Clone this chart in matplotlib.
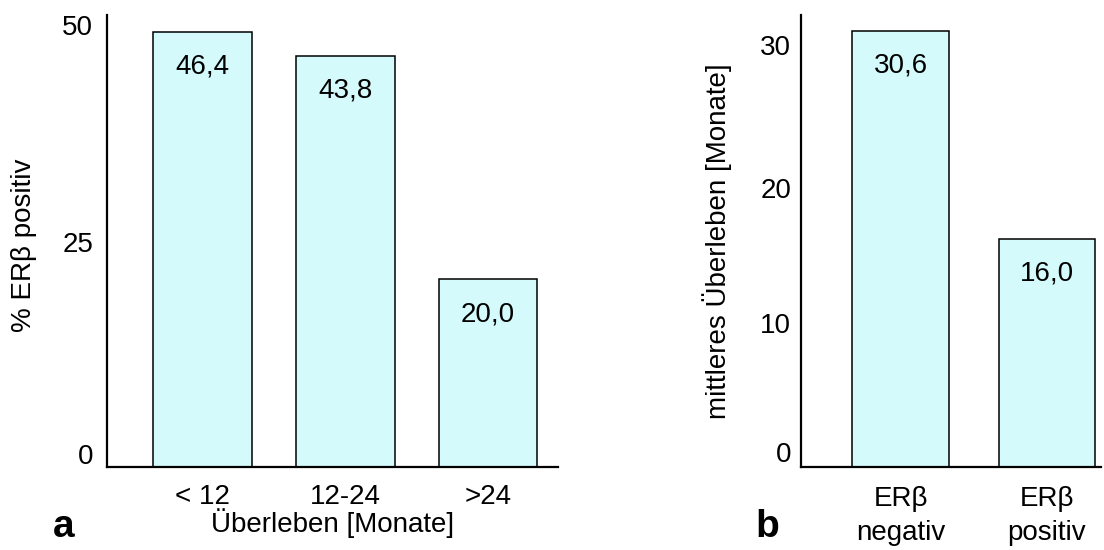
import matplotlib
matplotlib.use('Agg')
import matplotlib.pyplot as plt

plt.rcParams['font.family'] = ['Liberation Sans', 'DejaVu Sans']

# panel a: share of ERbeta positive tumours per survival group
surv_groups = ['< 12', '12-24', '>24']
pct_positive = [46.4, 43.8, 20.0]
a_tick_pos = [1.4, 24.0, 47.1]
a_tick_labels = ['0', '25', '50']

# panel b: mean survival by ERbeta status
status_groups = ['ER\u03b2\nnegativ', 'ER\u03b2\npositiv']
mean_survival = [30.6, 16.0]
b_tick_pos = [1.05, 10.1, 19.55, 29.6]
b_tick_labels = ['0', '10', '20', '30']

BAR_COLOR = '#d4fafc'
FS = 20


def fmt(v):
    return '{:.1f}'.format(v).replace('.', ',')


def style_axes(ax):
    for side in ('top', 'right'):
        ax.spines[side].set_visible(False)
    for side in ('left', 'bottom'):
        ax.spines[side].set_linewidth(1.6)
    ax.tick_params(length=0, labelsize=FS)


def label_bars(ax, bars, values):
    for b, v in zip(bars, values):
        ax.annotate(fmt(v), (b.get_x() + b.get_width() / 2, v),
                    xytext=(0, -25), textcoords='offset points',
                    ha='center', va='center', fontsize=FS)


fig = plt.figure(figsize=(11.04, 5.5), dpi=100)

ax1 = fig.add_axes([107 / 1104, 83 / 550, 451 / 1104, 452 / 550])
bars = ax1.bar(range(len(surv_groups)), pct_positive, width=0.69,
               color=BAR_COLOR, edgecolor='black', linewidth=1.1)
ax1.set_xlim(-0.67, 2.49)
ax1.set_ylim(0, 48.2)
ax1.set_yticks(a_tick_pos, a_tick_labels)
ax1.set_xticks(range(len(surv_groups)), surv_groups)
style_axes(ax1)
ax1.tick_params(axis='y', pad=10)
ax1.tick_params(axis='x', pad=12)
label_bars(ax1, bars, pct_positive)
ax1.set_ylabel('% ER\u03b2 positiv', fontsize=FS)
ax1.yaxis.set_label_coords(-0.155, 0.49)
ax1.set_xlabel('\u00dcberleben [Monate]', fontsize=FS, labelpad=-1)

ax2 = fig.add_axes([801 / 1104, 83 / 550, 300 / 1104, 452 / 550])
bars = ax2.bar(range(len(status_groups)), mean_survival, width=0.66,
               color=BAR_COLOR, edgecolor='black', linewidth=1.1)
ax2.set_xlim(-0.68, 0.37 + 1)
ax2.set_ylim(0, 31.7)
ax2.set_yticks(b_tick_pos, b_tick_labels)
ax2.set_xticks(range(len(status_groups)), status_groups)
style_axes(ax2)
ax2.tick_params(axis='y', pad=7)
ax2.tick_params(axis='x', pad=14)
for t in ax2.get_xticklabels():
    t.set_linespacing(1.4)
label_bars(ax2, bars, mean_survival)
ax2.set_ylabel('mittleres \u00dcberleben [Monate]', fontsize=FS)
ax2.yaxis.set_label_coords(-0.23, 0.5)

fig.text(64 / 1104, 1 - 537 / 550, 'a', fontsize=28, fontweight='bold',
         ha='center', va='baseline')
fig.text(767 / 1104, 1 - 537 / 550, 'b', fontsize=28, fontweight='bold',
         ha='center', va='baseline')

fig.savefig('out.png', dpi=100)
plt.close(fig)
